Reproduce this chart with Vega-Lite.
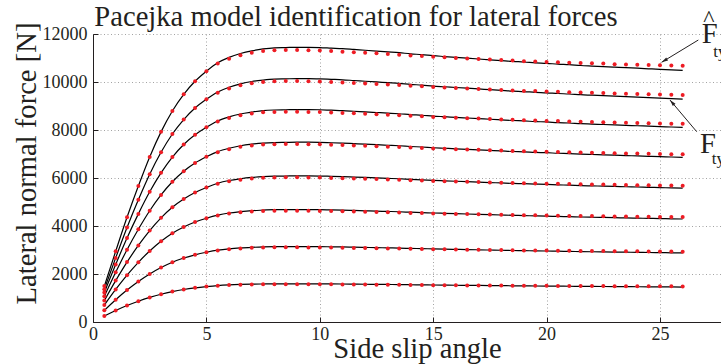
{
"$schema":"https://vega.github.io/schema/vega-lite/v6.json",
"width":628,"height":288,
"autosize":{"type":"none"},
"padding":{"left":93,"top":34,"right":0,"bottom":42},
"background":"white",
"config":{"view":{"stroke":null},"font":"Liberation Serif",
"axis":{"domainColor":"#231f20","domainWidth":1,"tickColor":"#231f20","tickSize":-5,"tickWidth":1,"grid":true,"gridColor":"#8c8c8c","gridDash":[1,2.5],"gridWidth":0.8,"labelFont":"Liberation Serif","labelFontSize":18,"labelColor":"#231f20","labelFlush":false,"labelOverlap":false,"titleFont":"Liberation Serif","titleFontSize":28.6,"titleFontWeight":"normal","titleColor":"#231f20"}},
"datasets":{
"pts":[
{"x":0.5,"c":1,"m":252,"f":252},{"x":1,"c":1,"m":480,"f":480},{"x":1.5,"c":1,"m":685,"f":685},{"x":2,"c":1,"m":866,"f":866},{"x":2.5,"c":1,"m":1024,"f":1024},{"x":3,"c":1,"m":1158,"f":1158},{"x":3.5,"c":1,"m":1268,"f":1268},{"x":4,"c":1,"m":1355,"f":1355},{"x":4.5,"c":1,"m":1422,"f":1422},{"x":5,"c":1,"m":1474,"f":1474},{"x":5.5,"c":1,"m":1512,"f":1517},{"x":6,"c":1,"m":1537,"f":1545},{"x":6.5,"c":1,"m":1555,"f":1564},{"x":7,"c":1,"m":1566,"f":1577},{"x":7.5,"c":1,"m":1572,"f":1584},{"x":8,"c":1,"m":1575,"f":1589},{"x":8.5,"c":1,"m":1575,"f":1589},{"x":9,"c":1,"m":1575,"f":1591},{"x":9.5,"c":1,"m":1573,"f":1591},{"x":10,"c":1,"m":1572,"f":1589},{"x":10.5,"c":1,"m":1569,"f":1586},{"x":11,"c":1,"m":1566,"f":1583},{"x":11.5,"c":1,"m":1562,"f":1578},{"x":12,"c":1,"m":1559,"f":1573},{"x":12.5,"c":1,"m":1556,"f":1569},{"x":13,"c":1,"m":1551,"f":1564},{"x":13.5,"c":1,"m":1548,"f":1559},{"x":14,"c":1,"m":1544,"f":1553},{"x":14.5,"c":1,"m":1540,"f":1548},{"x":15,"c":1,"m":1536,"f":1542},{"x":15.5,"c":1,"m":1532,"f":1537},{"x":16,"c":1,"m":1529,"f":1532},{"x":16.5,"c":1,"m":1526,"f":1528},{"x":17,"c":1,"m":1523,"f":1523},{"x":17.5,"c":1,"m":1520,"f":1518},{"x":18,"c":1,"m":1517,"f":1514},{"x":18.5,"c":1,"m":1514,"f":1509},{"x":19,"c":1,"m":1510,"f":1506},{"x":19.5,"c":1,"m":1509,"f":1501},{"x":20,"c":1,"m":1506,"f":1498},{"x":20.5,"c":1,"m":1504,"f":1493},{"x":21,"c":1,"m":1501,"f":1490},{"x":21.5,"c":1,"m":1499,"f":1485},{"x":22,"c":1,"m":1498,"f":1482},{"x":22.5,"c":1,"m":1496,"f":1479},{"x":23,"c":1,"m":1493,"f":1476},{"x":23.5,"c":1,"m":1492,"f":1473},{"x":24,"c":1,"m":1490,"f":1469},{"x":24.5,"c":1,"m":1488,"f":1466},{"x":25,"c":1,"m":1487,"f":1463},{"x":25.5,"c":1,"m":1485,"f":1460},{"x":26,"c":1,"m":1484,"f":1457},
{"x":0.5,"c":2,"m":485,"f":485},{"x":1,"c":2,"m":930,"f":930},{"x":1.5,"c":2,"m":1332,"f":1332},{"x":2,"c":2,"m":1689,"f":1689},{"x":2.5,"c":2,"m":2003,"f":2003},{"x":3,"c":2,"m":2271,"f":2271},{"x":3.5,"c":2,"m":2492,"f":2492},{"x":4,"c":2,"m":2666,"f":2666},{"x":4.5,"c":2,"m":2800,"f":2800},{"x":5,"c":2,"m":2906,"f":2906},{"x":5.5,"c":2,"m":2983,"f":2993},{"x":6,"c":2,"m":3033,"f":3049},{"x":6.5,"c":2,"m":3067,"f":3086},{"x":7,"c":2,"m":3089,"f":3111},{"x":7.5,"c":2,"m":3105,"f":3130},{"x":8,"c":2,"m":3111,"f":3139},{"x":8.5,"c":2,"m":3111,"f":3139},{"x":9,"c":2,"m":3111,"f":3142},{"x":9.5,"c":2,"m":3108,"f":3142},{"x":10,"c":2,"m":3105,"f":3139},{"x":10.5,"c":2,"m":3099,"f":3133},{"x":11,"c":2,"m":3092,"f":3127},{"x":11.5,"c":2,"m":3086,"f":3117},{"x":12,"c":2,"m":3080,"f":3108},{"x":12.5,"c":2,"m":3074,"f":3099},{"x":13,"c":2,"m":3064,"f":3089},{"x":13.5,"c":2,"m":3058,"f":3080},{"x":14,"c":2,"m":3049,"f":3067},{"x":14.5,"c":2,"m":3043,"f":3058},{"x":15,"c":2,"m":3033,"f":3046},{"x":15.5,"c":2,"m":3027,"f":3036},{"x":16,"c":2,"m":3021,"f":3027},{"x":16.5,"c":2,"m":3015,"f":3018},{"x":17,"c":2,"m":3008,"f":3008},{"x":17.5,"c":2,"m":3002,"f":2999},{"x":18,"c":2,"m":2996,"f":2990},{"x":18.5,"c":2,"m":2990,"f":2980},{"x":19,"c":2,"m":2983,"f":2974},{"x":19.5,"c":2,"m":2980,"f":2965},{"x":20,"c":2,"m":2974,"f":2959},{"x":20.5,"c":2,"m":2971,"f":2949},{"x":21,"c":2,"m":2965,"f":2943},{"x":21.5,"c":2,"m":2962,"f":2934},{"x":22,"c":2,"m":2959,"f":2927},{"x":22.5,"c":2,"m":2955,"f":2921},{"x":23,"c":2,"m":2949,"f":2915},{"x":23.5,"c":2,"m":2946,"f":2909},{"x":24,"c":2,"m":2943,"f":2903},{"x":24.5,"c":2,"m":2940,"f":2896},{"x":25,"c":2,"m":2937,"f":2890},{"x":25.5,"c":2,"m":2934,"f":2884},{"x":26,"c":2,"m":2931,"f":2878},
{"x":0.5,"c":3,"m":705,"f":705},{"x":1,"c":3,"m":1355,"f":1355},{"x":1.5,"c":3,"m":1953,"f":1953},{"x":2,"c":3,"m":2487,"f":2487},{"x":2.5,"c":3,"m":2960,"f":2960},{"x":3,"c":3,"m":3363,"f":3363},{"x":3.5,"c":3,"m":3697,"f":3697},{"x":4,"c":3,"m":3957,"f":3957},{"x":4.5,"c":3,"m":4166,"f":4166},{"x":5,"c":3,"m":4324,"f":4324},{"x":5.5,"c":3,"m":4440,"f":4453},{"x":6,"c":3,"m":4518,"f":4542},{"x":6.5,"c":3,"m":4569,"f":4597},{"x":7,"c":3,"m":4607,"f":4639},{"x":7.5,"c":3,"m":4625,"f":4662},{"x":8,"c":3,"m":4639,"f":4681},{"x":8.5,"c":3,"m":4639,"f":4681},{"x":9,"c":3,"m":4639,"f":4685},{"x":9.5,"c":3,"m":4634,"f":4685},{"x":10,"c":3,"m":4630,"f":4681},{"x":10.5,"c":3,"m":4620,"f":4671},{"x":11,"c":3,"m":4611,"f":4662},{"x":11.5,"c":3,"m":4602,"f":4648},{"x":12,"c":3,"m":4593,"f":4634},{"x":12.5,"c":3,"m":4583,"f":4620},{"x":13,"c":3,"m":4569,"f":4607},{"x":13.5,"c":3,"m":4560,"f":4593},{"x":14,"c":3,"m":4546,"f":4574},{"x":14.5,"c":3,"m":4537,"f":4560},{"x":15,"c":3,"m":4523,"f":4542},{"x":15.5,"c":3,"m":4514,"f":4528},{"x":16,"c":3,"m":4504,"f":4514},{"x":16.5,"c":3,"m":4495,"f":4500},{"x":17,"c":3,"m":4486,"f":4486},{"x":17.5,"c":3,"m":4477,"f":4472},{"x":18,"c":3,"m":4467,"f":4458},{"x":18.5,"c":3,"m":4458,"f":4444},{"x":19,"c":3,"m":4449,"f":4435},{"x":19.5,"c":3,"m":4444,"f":4421},{"x":20,"c":3,"m":4435,"f":4412},{"x":20.5,"c":3,"m":4430,"f":4398},{"x":21,"c":3,"m":4421,"f":4388},{"x":21.5,"c":3,"m":4416,"f":4375},{"x":22,"c":3,"m":4412,"f":4365},{"x":22.5,"c":3,"m":4407,"f":4356},{"x":23,"c":3,"m":4398,"f":4347},{"x":23.5,"c":3,"m":4393,"f":4337},{"x":24,"c":3,"m":4388,"f":4328},{"x":24.5,"c":3,"m":4384,"f":4319},{"x":25,"c":3,"m":4379,"f":4310},{"x":25.5,"c":3,"m":4375,"f":4300},{"x":26,"c":3,"m":4370,"f":4291},
{"x":0.5,"c":4,"m":892,"f":892},{"x":1,"c":4,"m":1724,"f":1724},{"x":1.5,"c":4,"m":2496,"f":2496},{"x":2,"c":4,"m":3189,"f":3189},{"x":2.5,"c":4,"m":3810,"f":3810},{"x":3,"c":4,"m":4340,"f":4340},{"x":3.5,"c":4,"m":4780,"f":4780},{"x":4,"c":4,"m":5124,"f":5124},{"x":4.5,"c":4,"m":5395,"f":5395},{"x":5,"c":4,"m":5606,"f":5606},{"x":5.5,"c":4,"m":5763,"f":5781},{"x":6,"c":4,"m":5865,"f":5895},{"x":6.5,"c":4,"m":5932,"f":5968},{"x":7,"c":4,"m":5980,"f":6022},{"x":7.5,"c":4,"m":6010,"f":6058},{"x":8,"c":4,"m":6022,"f":6076},{"x":8.5,"c":4,"m":6028,"f":6082},{"x":9,"c":4,"m":6028,"f":6088},{"x":9.5,"c":4,"m":6022,"f":6088},{"x":10,"c":4,"m":6016,"f":6082},{"x":10.5,"c":4,"m":6004,"f":6070},{"x":11,"c":4,"m":5992,"f":6058},{"x":11.5,"c":4,"m":5980,"f":6040},{"x":12,"c":4,"m":5968,"f":6022},{"x":12.5,"c":4,"m":5956,"f":6004},{"x":13,"c":4,"m":5938,"f":5986},{"x":13.5,"c":4,"m":5926,"f":5968},{"x":14,"c":4,"m":5907,"f":5944},{"x":14.5,"c":4,"m":5895,"f":5926},{"x":15,"c":4,"m":5877,"f":5901},{"x":15.5,"c":4,"m":5865,"f":5883},{"x":16,"c":4,"m":5853,"f":5865},{"x":16.5,"c":4,"m":5841,"f":5847},{"x":17,"c":4,"m":5829,"f":5829},{"x":17.5,"c":4,"m":5817,"f":5811},{"x":18,"c":4,"m":5805,"f":5793},{"x":18.5,"c":4,"m":5793,"f":5775},{"x":19,"c":4,"m":5781,"f":5763},{"x":19.5,"c":4,"m":5775,"f":5745},{"x":20,"c":4,"m":5763,"f":5733},{"x":20.5,"c":4,"m":5757,"f":5715},{"x":21,"c":4,"m":5745,"f":5703},{"x":21.5,"c":4,"m":5739,"f":5684},{"x":22,"c":4,"m":5733,"f":5672},{"x":22.5,"c":4,"m":5727,"f":5660},{"x":23,"c":4,"m":5715,"f":5648},{"x":23.5,"c":4,"m":5709,"f":5636},{"x":24,"c":4,"m":5703,"f":5624},{"x":24.5,"c":4,"m":5697,"f":5612},{"x":25,"c":4,"m":5690,"f":5600},{"x":25.5,"c":4,"m":5684,"f":5588},{"x":26,"c":4,"m":5678,"f":5576},
{"x":0.5,"c":5,"m":1068,"f":1068},{"x":1,"c":5,"m":2069,"f":2069},{"x":1.5,"c":5,"m":3011,"f":3011},{"x":2,"c":5,"m":3864,"f":3864},{"x":2.5,"c":5,"m":4636,"f":4636},{"x":3,"c":5,"m":5296,"f":5296},{"x":3.5,"c":5,"m":5845,"f":5845},{"x":4,"c":5,"m":6282,"f":6282},{"x":4.5,"c":5,"m":6623,"f":6623},{"x":5,"c":5,"m":6883,"f":6883},{"x":5.5,"c":5,"m":7076,"f":7098},{"x":6,"c":5,"m":7202,"f":7239},{"x":6.5,"c":5,"m":7298,"f":7343},{"x":7,"c":5,"m":7358,"f":7410},{"x":7.5,"c":5,"m":7395,"f":7454},{"x":8,"c":5,"m":7410,"f":7476},{"x":8.5,"c":5,"m":7417,"f":7484},{"x":9,"c":5,"m":7417,"f":7491},{"x":9.5,"c":5,"m":7410,"f":7491},{"x":10,"c":5,"m":7402,"f":7484},{"x":10.5,"c":5,"m":7387,"f":7469},{"x":11,"c":5,"m":7372,"f":7454},{"x":11.5,"c":5,"m":7358,"f":7432},{"x":12,"c":5,"m":7343,"f":7410},{"x":12.5,"c":5,"m":7328,"f":7387},{"x":13,"c":5,"m":7306,"f":7365},{"x":13.5,"c":5,"m":7291,"f":7343},{"x":14,"c":5,"m":7269,"f":7313},{"x":14.5,"c":5,"m":7254,"f":7291},{"x":15,"c":5,"m":7232,"f":7261},{"x":15.5,"c":5,"m":7217,"f":7239},{"x":16,"c":5,"m":7202,"f":7217},{"x":16.5,"c":5,"m":7187,"f":7194},{"x":17,"c":5,"m":7172,"f":7172},{"x":17.5,"c":5,"m":7157,"f":7150},{"x":18,"c":5,"m":7143,"f":7128},{"x":18.5,"c":5,"m":7128,"f":7105},{"x":19,"c":5,"m":7113,"f":7091},{"x":19.5,"c":5,"m":7105,"f":7068},{"x":20,"c":5,"m":7091,"f":7054},{"x":20.5,"c":5,"m":7083,"f":7031},{"x":21,"c":5,"m":7068,"f":7016},{"x":21.5,"c":5,"m":7061,"f":6994},{"x":22,"c":5,"m":7054,"f":6979},{"x":22.5,"c":5,"m":7046,"f":6965},{"x":23,"c":5,"m":7031,"f":6950},{"x":23.5,"c":5,"m":7024,"f":6935},{"x":24,"c":5,"m":7016,"f":6920},{"x":24.5,"c":5,"m":7009,"f":6905},{"x":25,"c":5,"m":7002,"f":6890},{"x":25.5,"c":5,"m":6994,"f":6876},{"x":26,"c":5,"m":6987,"f":6861},
{"x":0.5,"c":6,"m":1227,"f":1227},{"x":1,"c":6,"m":2393,"f":2393},{"x":1.5,"c":6,"m":3497,"f":3497},{"x":2,"c":6,"m":4505,"f":4505},{"x":2.5,"c":6,"m":5425,"f":5425},{"x":3,"c":6,"m":6214,"f":6214},{"x":3.5,"c":6,"m":6871,"f":6871},{"x":4,"c":6,"m":7397,"f":7397},{"x":4.5,"c":6,"m":7800,"f":7800},{"x":5,"c":6,"m":8115,"f":8115},{"x":5.5,"c":6,"m":8352,"f":8378},{"x":6,"c":6,"m":8501,"f":8545},{"x":6.5,"c":6,"m":8615,"f":8668},{"x":7,"c":6,"m":8685,"f":8746},{"x":7.5,"c":6,"m":8738,"f":8808},{"x":8,"c":6,"m":8755,"f":8834},{"x":8.5,"c":6,"m":8764,"f":8843},{"x":9,"c":6,"m":8764,"f":8852},{"x":9.5,"c":6,"m":8755,"f":8852},{"x":10,"c":6,"m":8746,"f":8843},{"x":10.5,"c":6,"m":8729,"f":8825},{"x":11,"c":6,"m":8711,"f":8808},{"x":11.5,"c":6,"m":8694,"f":8782},{"x":12,"c":6,"m":8676,"f":8755},{"x":12.5,"c":6,"m":8659,"f":8729},{"x":13,"c":6,"m":8633,"f":8703},{"x":13.5,"c":6,"m":8615,"f":8676},{"x":14,"c":6,"m":8589,"f":8641},{"x":14.5,"c":6,"m":8571,"f":8615},{"x":15,"c":6,"m":8545,"f":8580},{"x":15.5,"c":6,"m":8527,"f":8554},{"x":16,"c":6,"m":8510,"f":8527},{"x":16.5,"c":6,"m":8492,"f":8501},{"x":17,"c":6,"m":8475,"f":8475},{"x":17.5,"c":6,"m":8457,"f":8448},{"x":18,"c":6,"m":8440,"f":8422},{"x":18.5,"c":6,"m":8422,"f":8396},{"x":19,"c":6,"m":8405,"f":8378},{"x":19.5,"c":6,"m":8396,"f":8352},{"x":20,"c":6,"m":8378,"f":8335},{"x":20.5,"c":6,"m":8370,"f":8308},{"x":21,"c":6,"m":8352,"f":8291},{"x":21.5,"c":6,"m":8343,"f":8264},{"x":22,"c":6,"m":8335,"f":8247},{"x":22.5,"c":6,"m":8326,"f":8229},{"x":23,"c":6,"m":8308,"f":8212},{"x":23.5,"c":6,"m":8300,"f":8194},{"x":24,"c":6,"m":8291,"f":8177},{"x":24.5,"c":6,"m":8282,"f":8159},{"x":25,"c":6,"m":8273,"f":8142},{"x":25.5,"c":6,"m":8264,"f":8124},{"x":26,"c":6,"m":8256,"f":8107},
{"x":0.5,"c":7,"m":1366,"f":1366},{"x":1,"c":7,"m":2671,"f":2671},{"x":1.5,"c":7,"m":3936,"f":3936},{"x":2,"c":7,"m":5091,"f":5091},{"x":2.5,"c":7,"m":6156,"f":6156},{"x":3,"c":7,"m":7070,"f":7070},{"x":3.5,"c":7,"m":7833,"f":7833},{"x":4,"c":7,"m":8435,"f":8435},{"x":4.5,"c":7,"m":8917,"f":8917},{"x":5,"c":7,"m":9279,"f":9279},{"x":5.5,"c":7,"m":9550,"f":9580},{"x":6,"c":7,"m":9731,"f":9781},{"x":6.5,"c":7,"m":9861,"f":9922},{"x":7,"c":7,"m":9952,"f":10022},{"x":7.5,"c":7,"m":10002,"f":10082},{"x":8,"c":7,"m":10032,"f":10122},{"x":8.5,"c":7,"m":10042,"f":10132},{"x":9,"c":7,"m":10042,"f":10142},{"x":9.5,"c":7,"m":10032,"f":10142},{"x":10,"c":7,"m":10022,"f":10132},{"x":10.5,"c":7,"m":10002,"f":10112},{"x":11,"c":7,"m":9982,"f":10092},{"x":11.5,"c":7,"m":9962,"f":10062},{"x":12,"c":7,"m":9942,"f":10032},{"x":12.5,"c":7,"m":9921,"f":10002},{"x":13,"c":7,"m":9891,"f":9972},{"x":13.5,"c":7,"m":9871,"f":9942},{"x":14,"c":7,"m":9841,"f":9901},{"x":14.5,"c":7,"m":9821,"f":9871},{"x":15,"c":7,"m":9791,"f":9831},{"x":15.5,"c":7,"m":9771,"f":9801},{"x":16,"c":7,"m":9751,"f":9771},{"x":16.5,"c":7,"m":9731,"f":9741},{"x":17,"c":7,"m":9711,"f":9711},{"x":17.5,"c":7,"m":9691,"f":9680},{"x":18,"c":7,"m":9670,"f":9650},{"x":18.5,"c":7,"m":9650,"f":9620},{"x":19,"c":7,"m":9630,"f":9600},{"x":19.5,"c":7,"m":9620,"f":9570},{"x":20,"c":7,"m":9600,"f":9550},{"x":20.5,"c":7,"m":9590,"f":9520},{"x":21,"c":7,"m":9570,"f":9500},{"x":21.5,"c":7,"m":9560,"f":9470},{"x":22,"c":7,"m":9550,"f":9450},{"x":22.5,"c":7,"m":9540,"f":9429},{"x":23,"c":7,"m":9520,"f":9409},{"x":23.5,"c":7,"m":9510,"f":9389},{"x":24,"c":7,"m":9500,"f":9369},{"x":24.5,"c":7,"m":9490,"f":9349},{"x":25,"c":7,"m":9480,"f":9329},{"x":25.5,"c":7,"m":9470,"f":9309},{"x":26,"c":7,"m":9460,"f":9289},
{"x":0.5,"c":8,"m":1496,"f":1496},{"x":1,"c":8,"m":2947,"f":2947},{"x":1.5,"c":8,"m":4363,"f":4363},{"x":2,"c":8,"m":5667,"f":5667},{"x":2.5,"c":8,"m":6879,"f":6879},{"x":3,"c":8,"m":7922,"f":7922},{"x":3.5,"c":8,"m":8794,"f":8794},{"x":4,"c":8,"m":9486,"f":9486},{"x":4.5,"c":8,"m":10030,"f":10030},{"x":5,"c":8,"m":10449,"f":10449},{"x":5.5,"c":8,"m":10766,"f":10800},{"x":6,"c":8,"m":10970,"f":11027},{"x":6.5,"c":8,"m":11118,"f":11186},{"x":7,"c":8,"m":11220,"f":11299},{"x":7.5,"c":8,"m":11288,"f":11378},{"x":8,"c":8,"m":11322,"f":11424},{"x":8.5,"c":8,"m":11333,"f":11435},{"x":9,"c":8,"m":11333,"f":11446},{"x":9.5,"c":8,"m":11322,"f":11446},{"x":10,"c":8,"m":11310,"f":11435},{"x":10.5,"c":8,"m":11288,"f":11412},{"x":11,"c":8,"m":11265,"f":11390},{"x":11.5,"c":8,"m":11242,"f":11356},{"x":12,"c":8,"m":11220,"f":11322},{"x":12.5,"c":8,"m":11197,"f":11288},{"x":13,"c":8,"m":11163,"f":11254},{"x":13.5,"c":8,"m":11140,"f":11220},{"x":14,"c":8,"m":11106,"f":11174},{"x":14.5,"c":8,"m":11084,"f":11140},{"x":15,"c":8,"m":11050,"f":11095},{"x":15.5,"c":8,"m":11027,"f":11061},{"x":16,"c":8,"m":11004,"f":11027},{"x":16.5,"c":8,"m":10982,"f":10993},{"x":17,"c":8,"m":10959,"f":10959},{"x":17.5,"c":8,"m":10936,"f":10925},{"x":18,"c":8,"m":10914,"f":10891},{"x":18.5,"c":8,"m":10891,"f":10857},{"x":19,"c":8,"m":10868,"f":10834},{"x":19.5,"c":8,"m":10857,"f":10800},{"x":20,"c":8,"m":10834,"f":10778},{"x":20.5,"c":8,"m":10823,"f":10744},{"x":21,"c":8,"m":10800,"f":10721},{"x":21.5,"c":8,"m":10789,"f":10687},{"x":22,"c":8,"m":10778,"f":10664},{"x":22.5,"c":8,"m":10766,"f":10642},{"x":23,"c":8,"m":10744,"f":10619},{"x":23.5,"c":8,"m":10732,"f":10596},{"x":24,"c":8,"m":10721,"f":10574},{"x":24.5,"c":8,"m":10710,"f":10551},{"x":25,"c":8,"m":10698,"f":10528},{"x":25.5,"c":8,"m":10687,"f":10506},{"x":26,"c":8,"m":10676,"f":10483}
],
"arrows":[{"id":1,"xa":26.69,"ya":11750,"xb":25.07,"yb":10820},{"id":2,"xa":26.62,"ya":7929,"xb":25.44,"yb":9250}],
"ttl":[{"x":0.06,"y":12320,"t":"Pacejka model identification for lateral forces"}],
"bigF":[{"x":26.84,"y":11613,"t":"F"},{"x":26.76,"y":7029,"t":"F"}],
"hat":[{"x":27.15,"y":12330,"t":"^"}],
"subs":[{"x":27.35,"y":11050,"t":"ty"},{"x":27.28,"y":6600,"t":"ty"}]
},
"layer":[
{"data":{"name":"pts"},"mark":{"type":"line","color":"#000000","strokeWidth":1.2,"interpolate":"monotone"},
"encoding":{
"x":{"field":"x","type":"quantitative","title":"Side slip angle","scale":{"domain":[0,27.69],"nice":false,"zero":false},
"axis":{"values":[0,5,10,15,20,25],"labelFont":"Liberation Serif","labelFontSize":18,"labelPadding":8,"titleFont":"Liberation Serif","titleX":324,"titleY":35,"titleBaseline":"alphabetic","titleAlign":"center"}},
"y":{"field":"f","type":"quantitative","title":"Lateral normal force [N]","scale":{"domain":[0,12000],"nice":false},
"axis":{"values":[0,2000,4000,6000,8000,10000,12000],"format":"d","labelFont":"Liberation Serif","labelFontSize":18,"labelPadding":11,"titleFont":"Liberation Serif","titleX":-58,"titleY":129,"titleAngle":270,"titleBaseline":"alphabetic","titleAlign":"center"}},
"detail":{"field":"c","type":"nominal"}}},
{"data":{"name":"pts"},"mark":{"type":"point","filled":true,"color":"#ee1c24","size":16,"opacity":1},
"encoding":{"x":{"field":"x","type":"quantitative","title":"Side slip angle"},"y":{"field":"m","type":"quantitative","title":"Lateral normal force [N]"}}},
{"data":{"name":"arrows"},"mark":{"type":"rule","color":"#231f20","strokeWidth":1},
"encoding":{"x":{"field":"xa","type":"quantitative","title":"Side slip angle"},"y":{"field":"ya","type":"quantitative","title":"Lateral normal force [N]"},"x2":{"field":"xb"},"y2":{"field":"yb"}}},
{"data":{"name":"arrows"},"transform":[{"filter":"datum.id == 1"}],"mark":{"type":"point","filled":true,"color":"#231f20","opacity":1,"size":25,"shape":"M0,0L0.7,2.6L-0.7,2.6Z","angle":238.6},
"encoding":{"x":{"field":"xb","type":"quantitative","title":"Side slip angle"},"y":{"field":"yb","type":"quantitative","title":"Lateral normal force [N]"}}},
{"data":{"name":"arrows"},"transform":[{"filter":"datum.id == 2"}],"mark":{"type":"point","filled":true,"color":"#231f20","opacity":1,"size":25,"shape":"M0,0L0.7,2.6L-0.7,2.6Z","angle":319.9},
"encoding":{"x":{"field":"xb","type":"quantitative","title":"Side slip angle"},"y":{"field":"yb","type":"quantitative","title":"Lateral normal force [N]"}}},
{"data":{"name":"ttl"},"mark":{"type":"text","font":"Liberation Serif","fontSize":28.6,"align":"left","baseline":"alphabetic","color":"#231f20"},
"encoding":{"x":{"field":"x","type":"quantitative","title":"Side slip angle"},"y":{"field":"y","type":"quantitative","title":"Lateral normal force [N]"},"text":{"field":"t"}}},
{"data":{"name":"bigF"},"mark":{"type":"text","font":"Liberation Serif","fontSize":28.6,"align":"left","baseline":"alphabetic","color":"#231f20"},
"encoding":{"x":{"field":"x","type":"quantitative","title":"Side slip angle"},"y":{"field":"y","type":"quantitative","title":"Lateral normal force [N]"},"text":{"field":"t"}}},
{"data":{"name":"hat"},"mark":{"type":"text","font":"Liberation Serif","fontSize":24,"align":"center","baseline":"alphabetic","color":"#231f20"},
"encoding":{"x":{"field":"x","type":"quantitative","title":"Side slip angle"},"y":{"field":"y","type":"quantitative","title":"Lateral normal force [N]"},"text":{"field":"t"}}},
{"data":{"name":"subs"},"mark":{"type":"text","font":"Liberation Serif","fontSize":17,"align":"left","baseline":"alphabetic","color":"#231f20"},
"encoding":{"x":{"field":"x","type":"quantitative","title":"Side slip angle"},"y":{"field":"y","type":"quantitative","title":"Lateral normal force [N]"},"text":{"field":"t"}}}
]
}
